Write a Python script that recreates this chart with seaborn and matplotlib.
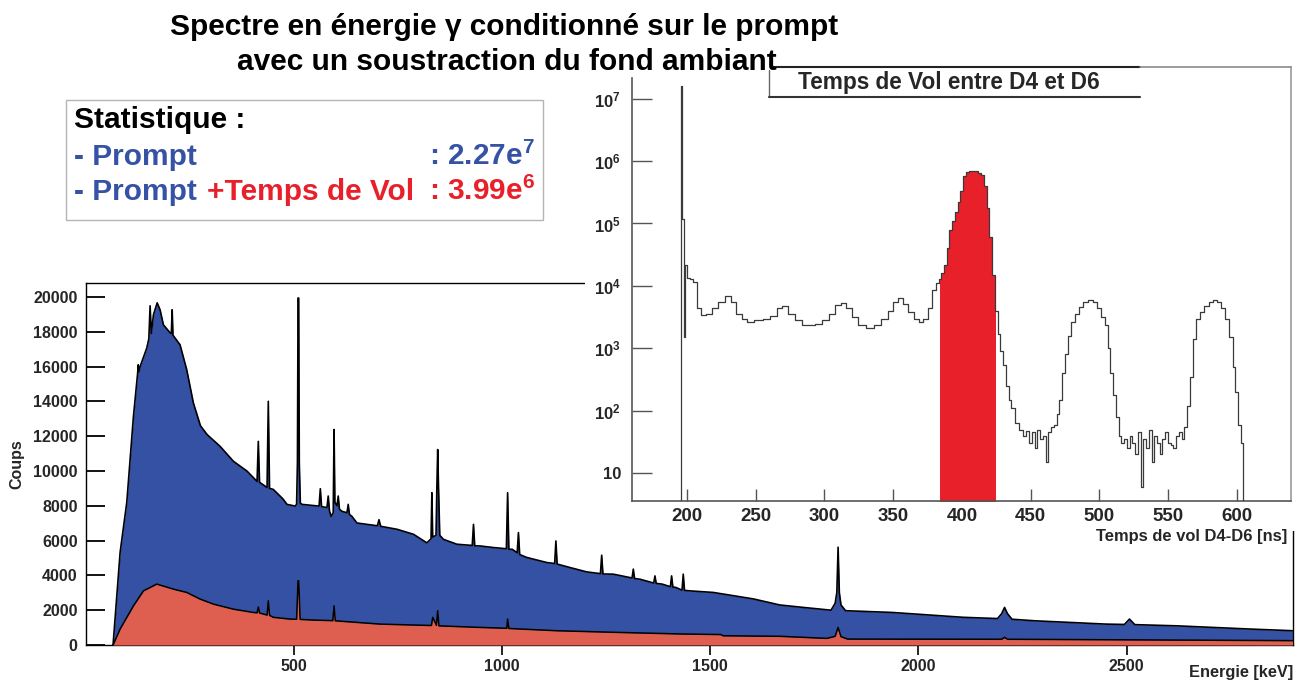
import numpy as np
import matplotlib
matplotlib.use("Agg")
import matplotlib.pyplot as plt
import seaborn as sns
from matplotlib.patches import Rectangle
from matplotlib.lines import Line2D
from matplotlib.ticker import MultipleLocator, FixedLocator, LogLocator, NullFormatter, FuncFormatter

# ---------------------------------------------------------------- data
# Gamma spectrum gated on the prompt (background subtracted), in keV / counts
energy_prompt = [65, 82, 98, 114, 124, 125.5, 127, 130, 146, 151, 154, 157, 162, 171, 178, 186,
                 202, 205, 207, 209, 226, 242, 258, 275, 291, 322, 354, 387, 411, 414, 417, 435,
                 438, 441, 450, 473, 483, 503, 506, 508, 509.5, 511, 512.5, 515, 519, 560, 563,
                 566, 579, 582, 585, 589, 594, 596, 598, 603, 606, 609, 615, 627, 630, 633, 639,
                 651, 700, 704, 708, 747, 787, 819, 829, 831, 833, 841, 843, 845, 847, 850, 859,
                 891, 928, 931, 934, 947, 979, 1010, 1013, 1016, 1024, 1036, 1039, 1042, 1059,
                 1107, 1126, 1129, 1132, 1163, 1203, 1236, 1239, 1242, 1267, 1312, 1315, 1318,
                 1331, 1364, 1367, 1370, 1384, 1404, 1407, 1410, 1417, 1432, 1435, 1438, 1451,
                 1507, 1603, 1667, 1723, 1790, 1800, 1804, 1807, 1810, 1814, 1825, 1937, 2108,
                 2190, 2200, 2207, 2214, 2225, 2280, 2451, 2495, 2507, 2520, 2622, 2793, 2899]
counts_prompt = [0, 5330, 8200, 13140, 15600, 16100, 15700, 16000, 17060, 17600, 19490, 17900,
                 18970, 19660, 19260, 18400, 17940, 17900, 19260, 17800, 17250, 15820, 13910,
                 12600, 12090, 11420, 10560, 9990, 9400, 11700, 9350, 9050, 14000, 9000, 8940,
                 8400, 8080, 7980, 8100, 10470, 19940, 19940, 10470, 8150, 8080, 7980, 8980, 7950,
                 7900, 8560, 7700, 7390, 7600, 12380, 8200, 8000, 8560, 7800, 7680, 7600, 8080,
                 7500, 7390, 7010, 6850, 7200, 6820, 6650, 6360, 5870, 6100, 8750, 6200, 6300,
                 9050, 11230, 9050, 6300, 6070, 5790, 5720, 6930, 5700, 5690, 5600, 5530, 8750,
                 5500, 5500, 5300, 6460, 5200, 5030, 4740, 4680, 5980, 4650, 4450, 4200, 4100,
                 5160, 4080, 4070, 3850, 4360, 3820, 3780, 3560, 3970, 3540, 3500, 3350, 3970,
                 3330, 3310, 3150, 4070, 3140, 3110, 3020, 2650, 2300, 2160, 2000, 2400, 3020,
                 5620, 3020, 2300, 1970, 1870, 1590, 1520, 1800, 2160, 1800, 1480, 1390, 1200,
                 1180, 1490, 1170, 1100, 920, 820]

# Same spectrum with the extra time-of-flight gate
energy_tof = [65, 82, 114, 138, 170, 210, 242, 274, 306, 354, 402, 411, 414, 417, 435, 438, 441,
              450, 490, 506, 509.5, 511, 514.5, 550, 593, 596, 599, 707, 830, 833, 842, 845, 848,
              947, 1011, 1013, 1016, 1131, 1267, 1435, 1525, 1531, 1667, 1780, 1800, 1807, 1814,
              1830, 2200, 2207, 2214, 2899]
counts_tof = [0, 920, 2250, 3110, 3500, 3210, 3020, 2640, 2350, 2060, 1870, 1850, 2180, 1840,
              1720, 2540, 1700, 1590, 1490, 1480, 3690, 3690, 1470, 1430, 1400, 2250, 1390, 1200,
              1120, 1590, 1130, 1970, 1100, 1010, 960, 1490, 950, 820, 730, 630, 600, 530, 500,
              380, 500, 1010, 480, 340, 330, 440, 330, 250]

# Time of flight between D4 and D6 (ns / counts)
tof_ns = [195, 196, 197, 198, 199, 201, 203, 206, 209, 212, 216, 220, 225, 230, 234, 238, 242,
          246, 252, 258, 263, 268, 271, 276, 281, 286, 291, 296, 301, 306, 310, 314, 318, 322,
          327, 333, 339, 344, 348, 352, 355, 359, 363, 367, 370, 374, 377, 380, 383, 384, 386,
          388, 390, 392, 394, 396, 398, 400, 402, 404, 407, 410, 413, 415, 417, 419, 421, 423,
          425, 427, 429, 431, 433, 435, 437, 440, 443, 446, 448, 450, 452, 454, 456, 458, 460,
          462, 464, 466, 468, 470, 472, 474, 476, 478, 481, 484, 487, 490, 494, 497, 500, 503,
          505, 507, 509, 511, 513, 515, 517, 519, 521, 523, 525, 527, 529, 531, 533, 535, 537,
          539, 541, 543, 545, 547, 549, 551, 553, 555, 557, 559, 561, 563, 565, 567, 569, 572,
          575, 578, 581, 584, 587, 590, 593, 596, 598, 600, 602, 604, 605.5]
tof_counts = [1, 1.6e7, 1.2e5, 1.5e3, 2.2e4, 1.35e4, 1.3e4, 1.15e4, 4.5e3, 3.4e3, 3.6e3, 4.5e3,
              5.6e3, 6.9e3, 5.5e3, 3.6e3, 2.9e3, 2.6e3, 2.8e3, 3.0e3, 3.3e3, 4.4e3, 4.75e3, 3.6e3,
              2.8e3, 2.4e3, 2.35e3, 2.5e3, 2.8e3, 3.6e3, 5.0e3, 5.4e3, 4.4e3, 3.2e3, 2.4e3, 2.1e3,
              2.4e3, 2.9e3, 3.9e3, 5.6e3, 6.4e3, 5.2e3, 3.8e3, 3.0e3, 2.6e3, 3.0e3, 4.5e3, 8.5e3,
              1.1e4, 1.3e4, 1.6e4, 2.2e4, 4.0e4, 8.0e4, 1.1e5, 1.5e5, 2.2e5, 3.3e5, 5.8e5, 6.7e5,
              6.9e5, 6.8e5, 6.5e5, 5.9e5, 4.0e5, 1.8e5, 6.0e4, 1.5e4, 4.0e3, 1.7e3, 9.0e2, 5.5e2,
              2.5e2, 1.5e2, 1.1e2, 65, 50, 40, 48, 30, 45, 25, 50, 35, 40, 15, 45, 55, 60, 90, 150,
              400, 800, 1.6e3, 2.6e3, 3.5e3, 4.6e3, 5.6e3, 5.9e3, 5.6e3, 4.5e3, 3.2e3, 2.4e3,
              1.0e3, 400, 180, 80, 40, 30, 35, 25, 40, 30, 20, 45, 6, 35, 25, 50, 15, 40, 30, 20,
              35, 45, 30, 28, 25, 40, 45, 35, 55, 120, 350, 1.4e3, 3.0e3, 3.8e3, 4.8e3, 5.6e3,
              6.0e3, 5.6e3, 4.5e3, 3.0e3, 1.5e3, 500, 200, 60, 30, 1]
tof_gate = [384, 425]

energy_ticks = [500, 1000, 1500, 2000, 2500]
tof_ticks = [200, 250, 300, 350, 400, 450, 500, 550, 600]
stat_labels = ["- Prompt", "- Prompt ", "+Temps de Vol"]
stat_values = [("2.27", 7), ("3.99", 6)]

# ---------------------------------------------------------------- style
BLUE = "#3451A3"
SALMON = "#DE5F4F"
RED = "#E8202A"
TXT_BLUE = "#3552A5"

sns.set_theme(style="white")
plt.rcParams["font.family"] = ["Liberation Sans", "DejaVu Sans"]
plt.rcParams["font.weight"] = "bold"
plt.rcParams["mathtext.fontset"] = "custom"
plt.rcParams["mathtext.rm"] = "Liberation Sans:bold"
plt.rcParams["mathtext.bf"] = "Liberation Sans:bold"
plt.rcParams["mathtext.it"] = "Liberation Sans:bold"
plt.rcParams["mathtext.default"] = "rm"

W, H = 1309, 682
fig = plt.figure(figsize=(W / 100, H / 100), dpi=100)
fig.patch.set_facecolor("white")


def fx(px):
    return px / W


def fy(py):
    return 1 - py / H


def box(l, t, r, b):
    return [fx(l), fy(b), fx(r) - fx(l), fy(t) - fy(b)]


def ftext(x, y, s, **kw):
    kw.setdefault("fontweight", "bold")
    return fig.text(fx(x), fy(y), s, **kw)


# ---------------------------------------------------------------- main spectrum
ax = fig.add_axes(box(86, 283, 1293, 645))
ax.set_facecolor("white")
ax.fill_between(energy_prompt, counts_prompt, color=BLUE, linewidth=0, zorder=2)
sns.lineplot(x=energy_prompt, y=counts_prompt, ax=ax, color="black", linewidth=1.2,
             estimator=None, sort=False, zorder=3)
ax.fill_between(energy_tof, counts_tof, color=SALMON, linewidth=0, zorder=4)
sns.lineplot(x=energy_tof, y=counts_tof, ax=ax, color="black", linewidth=1.1,
             estimator=None, sort=False, zorder=5)

ax.set_xlim(0, 2900)
ax.set_ylim(0, 20800)
ax.xaxis.set_major_locator(FixedLocator(energy_ticks))
ax.xaxis.set_minor_locator(MultipleLocator(100))
ax.yaxis.set_major_locator(MultipleLocator(2000))
ax.yaxis.set_minor_locator(MultipleLocator(500))
ax.yaxis.set_major_formatter(FuncFormatter(lambda v, p: f"{int(v)}"))
ax.tick_params(axis="y", which="major", direction="in", length=13.5, width=1.3,
               color="black", labelsize=11.5, pad=6)
ax.tick_params(axis="y", which="minor", direction="in", length=10.5, width=1.0, color="black")
ax.tick_params(axis="x", which="major", direction="out", length=7, width=1.2,
               color="black", labelsize=11.5, pad=3)
ax.tick_params(axis="x", which="minor", direction="out", length=3, width=0.9, color="black")
ax.tick_params(left=True, bottom=True)
for lab in ax.get_xticklabels() + ax.get_yticklabels():
    lab.set_fontweight("bold")
for side, sp in ax.spines.items():
    sp.set_visible(True)
    sp.set_color("black")
    sp.set_linewidth(1.0)
ax.set_xlabel("")
ax.set_ylabel("")

ftext(17, 464, "Coups", rotation=90, ha="center", va="center", fontsize=11.5)
ftext(1293, 673, "Energie [keV]", ha="right", va="center", fontsize=11.8)

# white pad carrying the time-of-flight histogram
fig.add_artist(Rectangle((fx(585), fy(531)), fx(1296) - fx(585), fy(62) - fy(531),
                         transform=fig.transFigure, facecolor="white", edgecolor="none",
                         zorder=1))

# ---------------------------------------------------------------- time of flight inset
axin = fig.add_axes(box(632, 67, 1291, 501))
axin.set_zorder(2)
axin.set_facecolor("white")
axin.patch.set_edgecolor("none")
axin.set_yscale("log")
tof_arr = np.array(tof_ns)
cnt_arr = np.array(tof_counts)
gate = (tof_arr >= tof_gate[0]) & (tof_arr <= tof_gate[1])
axin.fill_between(tof_arr[gate], cnt_arr[gate], 1, step="mid", color=RED, linewidth=0, zorder=2)
sns.lineplot(x=tof_ns, y=tof_counts, ax=axin, color="#3a3a3a", linewidth=0.9,
             estimator=None, sort=False, drawstyle="steps-mid", zorder=3)
axin.set_xlim(160, 639.5)
axin.set_ylim(3.6, 3.2e7)
axin.xaxis.set_major_locator(FixedLocator(tof_ticks))
axin.xaxis.set_minor_locator(MultipleLocator(10))
axin.yaxis.set_major_locator(FixedLocator([10, 1e2, 1e3, 1e4, 1e5, 1e6, 1e7]))
axin.yaxis.set_minor_locator(LogLocator(base=10, subs=np.arange(2, 10)))
axin.yaxis.set_minor_formatter(NullFormatter())


def decade_label(v, p):
    n = int(round(np.log10(v)))
    return "10" if n == 1 else r"$10^{%d}$" % n


axin.yaxis.set_major_formatter(FuncFormatter(decade_label))
axin.tick_params(axis="x", which="major", direction="in", length=8.6, width=1.0,
                 color="#555555", labelsize=13.5, pad=5)
axin.tick_params(axis="x", which="minor", direction="in", length=3.6, width=0.9, color="#555555")
axin.tick_params(axis="y", which="major", direction="in", length=14.4, width=1.0,
                 color="#555555", labelsize=12, pad=8)
axin.tick_params(axis="y", which="minor", direction="in", length=7.2, width=0.9, color="#555555")
axin.tick_params(left=True, bottom=True)
for lab in axin.get_xticklabels() + axin.get_yticklabels():
    lab.set_fontweight("bold")
axin.spines["left"].set_color("#555555")
axin.spines["left"].set_bounds(3.6, 2.1e7)
axin.spines["bottom"].set_color("#555555")
axin.spines["right"].set_color("#9a9a9a")
axin.spines["top"].set_visible(False)
for sp in axin.spines.values():
    sp.set_linewidth(1.2)
axin.set_xlabel("")
axin.set_ylabel("")

ftext(1287, 537, "Temps de vol D4-D6 [ns]", ha="right", va="center", fontsize=11.9, zorder=5)

# inset title box
fig.add_artist(Rectangle((fx(769), fy(97)), fx(1140) - fx(769), fy(67) - fy(97),
                         transform=fig.transFigure, facecolor="white", edgecolor="none",
                         zorder=3))
for (x0, y0, x1, y1, col, lw) in [(771, 67, 1140, 67, "#222222", 1.5),
                                  (1140, 67, 1291, 67, "#8a8a8a", 1.2),
                                  (769, 70, 769, 97, "#666666", 1.0),
                                  (769, 97, 1140, 97, "#333333", 1.5)]:
    fig.add_artist(Line2D([fx(x0), fx(x1)], [fy(y0), fy(y1)], transform=fig.transFigure,
                          color=col, linewidth=lw, zorder=4))
ftext(798, 83, "Temps de Vol entre D4 et D6", ha="left", va="center", fontsize=16.3, zorder=5)

# ---------------------------------------------------------------- titles
ftext(504, 35, "Spectre en énergie γ conditionné sur le prompt", ha="center",
      va="baseline", fontsize=21.5, color="black", zorder=6)
ftext(507, 70, "avec un soustraction du fond ambiant", ha="center", va="baseline",
      fontsize=21.5, color="black", zorder=6)

# ---------------------------------------------------------------- statistics box
fig.add_artist(Rectangle((fx(66), fy(220)), fx(543) - fx(66), fy(100) - fy(220),
                         transform=fig.transFigure, facecolor="white", edgecolor="#b5b5b5",
                         linewidth=1.0, zorder=3))
fs = 21.5
ftext(74, 128, "Statistique :", ha="left", va="baseline", fontsize=fs, color="black", zorder=6)
ftext(74, 165, stat_labels[0], ha="left", va="baseline", fontsize=fs, color=TXT_BLUE, zorder=6)
ftext(535, 165, r": %se$^{%d}$" % stat_values[0], ha="right", va="baseline", fontsize=fs,
      color=TXT_BLUE, zorder=6)
ftext(74, 200, stat_labels[1], ha="left", va="baseline", fontsize=fs, color=TXT_BLUE, zorder=6)
ftext(207, 200, stat_labels[2], ha="left", va="baseline", fontsize=fs, color=RED, zorder=6)
ftext(535, 200, r": %se$^{%d}$" % stat_values[1], ha="right", va="baseline", fontsize=fs,
      color=RED, zorder=6)

fig.savefig("out.png", dpi=100, facecolor="white")
